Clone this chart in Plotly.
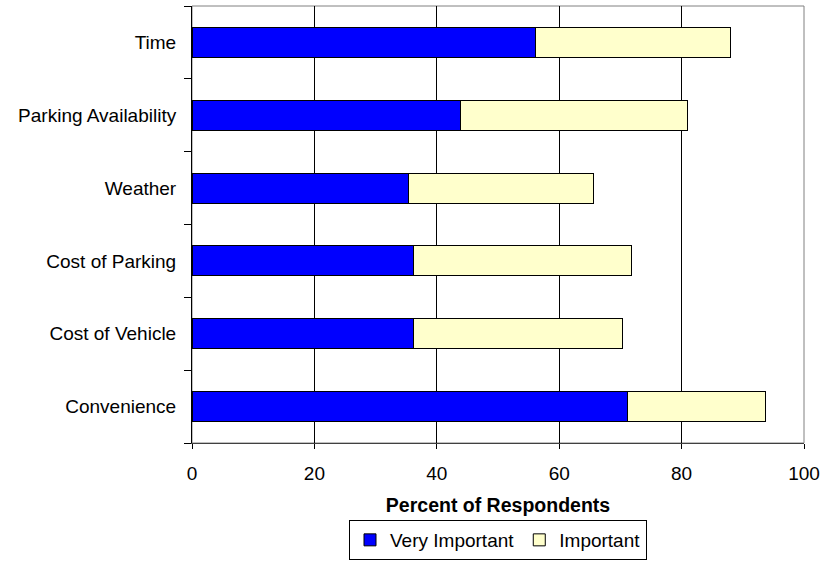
"""
Horizontal stacked bar chart: importance of factors in travel mode choice.
"""

import plotly.graph_objects as go

# Categories, listed bottom to top as plotly draws them
factors = ["Convenience", "Cost of Vehicle", "Cost of Parking",
           "Weather", "Parking Availability", "Time"]

# Percent of respondents per rating
very_important = [71.1, 36.2, 36.2, 35.4, 43.9, 56.2]
important = [22.6, 34.1, 35.6, 30.2, 37.1, 31.8]

x_ticks = [0, 20, 40, 60, 80, 100]

FONT = "Liberation Sans, Arial, sans-serif"

fig = go.Figure()

fig.add_trace(
    go.Bar(
        y=factors,
        x=very_important,
        orientation='h',
        name='Very Important',
        marker=dict(color='#0000FF', line=dict(color='black', width=1))
    )
)

fig.add_trace(
    go.Bar(
        y=factors,
        x=important,
        orientation='h',
        name='Important',
        marker=dict(color='#FFFFCC', line=dict(color='black', width=1))
    )
)

# Grey frame round the plot area (top and right edges show it)
fig.add_shape(
    type='rect', xref='paper', yref='paper', x0=0, x1=1, y0=0, y1=1,
    line=dict(color='#808080', width=1), layer='below'
)

fig.update_layout(
    width=825,
    height=561,
    barmode='stack',
    bargap=0.59,
    plot_bgcolor='white',
    paper_bgcolor='white',
    font=dict(family=FONT, size=19, color='black'),
    margin=dict(l=192, r=21, t=6, b=118),
    xaxis=dict(
        range=[0, 100],
        tickvals=x_ticks,
        ticks='outside',
        ticklen=5,
        tickcolor='black',
        showgrid=True,
        gridcolor='#000000',
        gridwidth=1,
        showline=True,
        linecolor='#404040',
        linewidth=1,
        zeroline=False,
        automargin=False,
        ticklabelstandoff=8,
        title=dict(text='<b>Percent of Respondents</b>', standoff=15,
                   font=dict(size=19.5)),
    ),
    yaxis=dict(
        ticks='outside',
        tickson='boundaries',
        ticklen=7,
        tickcolor='black',
        showgrid=False,
        showline=True,
        linecolor='black',
        linewidth=1,
        automargin=False,
        ticklabelstandoff=11,
    ),
    legend=dict(
        orientation='h',
        traceorder='normal',
        x=0.5,
        xanchor='center',
        xref='paper',
        yref='container',
        y=1 - 520 / 561,
        yanchor='top',
        bordercolor='black',
        borderwidth=1,
        font=dict(size=19),
        itemwidth=30,
    ),
    showlegend=True,
)

# drop the page's default body margin so the figure sits at the corner
fig.write_html("out.html", config={'displayModeBar': False},
               post_script="document.body.style.margin='0';")
